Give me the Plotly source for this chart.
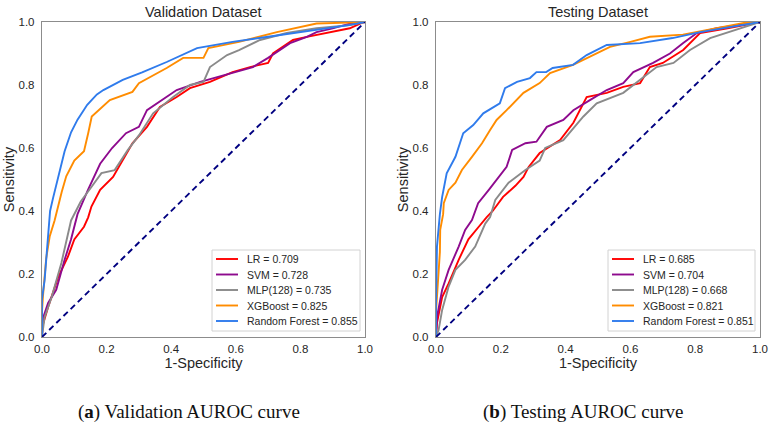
import plotly.graph_objects as go

# ---------------- data ----------------
models = ["LR", "SVM", "MLP(128)", "XGBoost", "Random Forest"]
colors = ["#ff0000", "#8e0a8e", "#8a8a8a", "#ff8c00", "#2f7bec"]

val_auc = [0.709, 0.728, 0.735, 0.825, 0.855]
test_auc = [0.685, 0.704, 0.668, 0.821, 0.851]

# Validation curves
val_lr_fpr = [0, 0, 0.019, 0.05, 0.08, 0.10, 0.13, 0.143, 0.153, 0.18, 0.22, 0.25, 0.28, 0.325, 0.365, 0.417, 0.458, 0.52, 0.59, 0.644, 0.70, 0.715, 0.777, 0.82, 0.953, 0.99, 1]
val_lr_tpr = [0, 0.03, 0.095, 0.19, 0.254, 0.31, 0.35, 0.38, 0.414, 0.467, 0.508, 0.56, 0.615, 0.667, 0.73, 0.762, 0.79, 0.81, 0.841, 0.857, 0.87, 0.90, 0.943, 0.953, 0.98, 0.997, 1]

val_svm_fpr = [0, 0.003, 0.019, 0.044, 0.07, 0.09, 0.11, 0.142, 0.18, 0.217, 0.26, 0.30, 0.325, 0.386, 0.417, 0.49, 0.59, 0.653, 0.70, 0.737, 0.768, 0.82, 0.85, 0.90, 0.953, 1]
val_svm_tpr = [0, 0.06, 0.108, 0.15, 0.245, 0.31, 0.39, 0.466, 0.55, 0.60, 0.647, 0.667, 0.72, 0.762, 0.784, 0.81, 0.838, 0.857, 0.886, 0.911, 0.933, 0.953, 0.968, 0.98, 0.995, 1]

val_mlp_fpr = [0, 0.008, 0.03, 0.06, 0.09, 0.12, 0.153, 0.184, 0.225, 0.266, 0.30, 0.344, 0.406, 0.458, 0.50, 0.52, 0.573, 0.61, 0.675, 0.758, 0.85, 0.953, 1]
val_mlp_tpr = [0, 0.063, 0.127, 0.235, 0.37, 0.43, 0.476, 0.52, 0.53, 0.594, 0.64, 0.71, 0.762, 0.80, 0.81, 0.857, 0.895, 0.911, 0.943, 0.965, 0.98, 0.99, 1]

val_xgb_fpr = [0, 0, 0.003, 0.013, 0.024, 0.039, 0.061, 0.075, 0.10, 0.13, 0.143, 0.154, 0.21, 0.28, 0.30, 0.386, 0.437, 0.50, 0.515, 0.61, 0.727, 0.85, 1]
val_xgb_tpr = [0, 0.08, 0.13, 0.25, 0.32, 0.37, 0.46, 0.51, 0.56, 0.59, 0.647, 0.70, 0.752, 0.778, 0.806, 0.854, 0.886, 0.886, 0.917, 0.937, 0.968, 0.995, 1]

val_rf_fpr = [0, 0, 0.008, 0.019, 0.025, 0.034, 0.05, 0.07, 0.09, 0.11, 0.14, 0.17, 0.19, 0.25, 0.31, 0.386, 0.48, 0.59, 0.70, 0.85, 0.95, 1]
val_rf_tpr = [0, 0.12, 0.18, 0.31, 0.40, 0.44, 0.51, 0.59, 0.65, 0.69, 0.737, 0.77, 0.784, 0.816, 0.84, 0.873, 0.917, 0.937, 0.953, 0.975, 0.99, 1]

# Testing curves
test_lr_fpr = [0, 0.003, 0.019, 0.039, 0.07, 0.10, 0.132, 0.156, 0.175, 0.207, 0.245, 0.27, 0.286, 0.32, 0.383, 0.424, 0.465, 0.527, 0.578, 0.63, 0.66, 0.70, 0.763, 0.815, 0.9, 1]
test_lr_tpr = [0, 0.044, 0.127, 0.17, 0.245, 0.31, 0.35, 0.38, 0.40, 0.445, 0.48, 0.508, 0.54, 0.584, 0.625, 0.68, 0.762, 0.775, 0.794, 0.806, 0.857, 0.87, 0.911, 0.965, 0.98, 1]

test_svm_fpr = [0, 0.003, 0.019, 0.039, 0.07, 0.09, 0.111, 0.13, 0.163, 0.193, 0.218, 0.235, 0.276, 0.31, 0.342, 0.393, 0.424, 0.475, 0.527, 0.578, 0.609, 0.67, 0.722, 0.763, 0.805, 0.866, 0.938, 1]
test_svm_tpr = [0, 0.063, 0.15, 0.213, 0.287, 0.34, 0.371, 0.425, 0.467, 0.508, 0.54, 0.594, 0.615, 0.62, 0.667, 0.689, 0.72, 0.752, 0.784, 0.806, 0.841, 0.87, 0.90, 0.933, 0.965, 0.98, 0.99, 1]

test_mlp_fpr = [0, 0.008, 0.019, 0.039, 0.06, 0.09, 0.121, 0.152, 0.167, 0.183, 0.224, 0.276, 0.32, 0.337, 0.393, 0.455, 0.496, 0.578, 0.64, 0.681, 0.733, 0.784, 0.846, 0.928, 1]
test_mlp_tpr = [0, 0.022, 0.086, 0.16, 0.213, 0.245, 0.287, 0.36, 0.381, 0.435, 0.49, 0.53, 0.56, 0.60, 0.625, 0.70, 0.742, 0.775, 0.825, 0.857, 0.87, 0.911, 0.949, 0.975, 1]

test_xgb_fpr = [0, 0, 0.003, 0.012, 0.013, 0.022, 0.024, 0.039, 0.06, 0.08, 0.111, 0.142, 0.167, 0.187, 0.218, 0.27, 0.32, 0.352, 0.423, 0.475, 0.537, 0.60, 0.66, 0.762, 0.886, 0.95, 1]
test_xgb_tpr = [0, 0.08, 0.127, 0.27, 0.34, 0.39, 0.425, 0.467, 0.49, 0.53, 0.572, 0.615, 0.657, 0.689, 0.72, 0.775, 0.806, 0.838, 0.864, 0.889, 0.921, 0.937, 0.953, 0.96, 0.984, 0.997, 1]

test_rf_fpr = [0, 0, 0.003, 0.008, 0.012, 0.019, 0.033, 0.06, 0.084, 0.115, 0.146, 0.197, 0.213, 0.25, 0.29, 0.31, 0.34, 0.36, 0.423, 0.465, 0.527, 0.63, 0.73, 0.815, 0.886, 0.948, 1]
test_rf_tpr = [0, 0.1, 0.287, 0.35, 0.39, 0.445, 0.52, 0.572, 0.647, 0.673, 0.71, 0.742, 0.79, 0.81, 0.822, 0.841, 0.841, 0.854, 0.864, 0.895, 0.927, 0.933, 0.949, 0.968, 0.98, 0.99, 1]

diag = [0, 1]

val_curves = [(val_lr_fpr, val_lr_tpr), (val_svm_fpr, val_svm_tpr), (val_mlp_fpr, val_mlp_tpr),
              (val_xgb_fpr, val_xgb_tpr), (val_rf_fpr, val_rf_tpr)]
test_curves = [(test_lr_fpr, test_lr_tpr), (test_svm_fpr, test_svm_tpr), (test_mlp_fpr, test_mlp_tpr),
               (test_xgb_fpr, test_xgb_tpr), (test_rf_fpr, test_rf_tpr)]

titles = ["Validation Dataset", "Testing Dataset"]
captions = ["(<b>a</b>) Validation AUROC curve", "(<b>b</b>) Testing AUROC curve"]
tick_vals = [0, 0.2, 0.4, 0.6, 0.8, 1.0]
tick_text = ["0.0", "0.2", "0.4", "0.6", "0.8", "1.0"]

# ---------------- figure ----------------
W, H = 772, 427
fig = go.Figure()
FONT = "Liberation Sans, Arial, sans-serif"
TXT = "#262626"

panels = [
    dict(xa="x", ya="y", curves=val_curves, auc=val_auc),
    dict(xa="x2", ya="y2", curves=test_curves, auc=test_auc),
]

for p in panels:
    for name, col, (fx, ty), a in zip(models, colors, p["curves"], p["auc"]):
        fig.add_trace(go.Scatter(
            x=fx, y=ty, mode="lines", name=f"{name} = {a:.3f}", showlegend=False,
            line=dict(color=col, width=1.9), xaxis=p["xa"], yaxis=p["ya"],
            hoverinfo="skip"))
    fig.add_trace(go.Scatter(
        x=diag, y=diag, mode="lines", showlegend=False,
        line=dict(color="#000080", width=1.9, dash="6px,4px"),
        xaxis=p["xa"], yaxis=p["ya"], hoverinfo="skip"))

y_dom = [1 - 337 / H, 1 - 22 / H]
x_doms = [[42 / W, 365 / W], [436 / W, 760 / W]]

axis_common = dict(range=[0, 1], tickvals=tick_vals, ticktext=tick_text, showgrid=False,
                   zeroline=False, showline=True, linecolor="#8c8c8c", linewidth=1.2,
                   mirror=True, ticks="", automargin=False, fixedrange=True,
                   tickfont=dict(family=FONT, size=11.5, color=TXT))

def xtitle():
    return dict(text="1-Specificity", font=dict(family=FONT, size=14.5, color=TXT), standoff=0)

def ytitle():
    return dict(text="Sensitivity", font=dict(family=FONT, size=14.5, color=TXT), standoff=0)

fig.update_layout(
    xaxis=dict(domain=x_doms[0], anchor="y", title=xtitle(), ticklabelstandoff=1, **axis_common),
    yaxis=dict(domain=y_dom, anchor="x", title=ytitle(), ticklabelstandoff=4, **axis_common),
    xaxis2=dict(domain=x_doms[1], anchor="y2", title=xtitle(), ticklabelstandoff=1, **axis_common),
    yaxis2=dict(domain=y_dom, anchor="x2", title=ytitle(), ticklabelstandoff=4, **axis_common),
)

# ---- legends (drawn inside each panel, bottom right) ----
leg_boxes = [(212, 360), (608, 755)]  # pixel left/right of legend boxes
leg_top, leg_bot = 250, 331
row_y = [259, 274.5, 290, 305.5, 321]
shapes = []
for (bl, br), p in zip(leg_boxes, panels):
    shapes.append(dict(type="rect", xref="paper", yref="paper",
                       x0=bl / W, x1=br / W, y0=1 - leg_bot / H, y1=1 - leg_top / H,
                       line=dict(color="#d2d2d2", width=1), fillcolor="white", layer="above"))
    for name, col, a, ry in zip(models, colors, p["auc"], row_y):
        shapes.append(dict(type="line", xref="paper", yref="paper",
                           x0=(bl + 4) / W, x1=(bl + 26) / W, y0=1 - ry / H, y1=1 - ry / H,
                           line=dict(color=col, width=1.9), layer="above"))
        fig.add_annotation(text=f"{name} = {a:.3f}", x=(bl + 33) / W, y=1 - ry / H,
                           xref="paper", yref="paper", xanchor="left", yanchor="middle",
                           showarrow=False, font=dict(family=FONT, size=10.5, color=TXT))
fig.update_layout(shapes=shapes)

for xd, t in zip(x_doms, titles):
    cx = (xd[0] + xd[1]) / 2
    fig.add_annotation(text=t, x=cx, y=1 - 22 / H, xref="paper", yref="paper",
                       xanchor="center", yanchor="bottom", showarrow=False, yshift=0,
                       font=dict(family=FONT, size=14.5, color=TXT))

cap_x = [189 / W, 583 / W]
for cx, c in zip(cap_x, captions):
    fig.add_annotation(text=c, x=cx, y=1 - 412 / H, xref="paper", yref="paper",
                       xanchor="center", yanchor="middle", showarrow=False,
                       font=dict(family="Liberation Serif, Times New Roman, serif", size=19, color="#111"))

fig.update_layout(width=W, height=H, margin=dict(l=0, r=0, t=0, b=0, autoexpand=False),
                  paper_bgcolor="white", plot_bgcolor="white", showlegend=False,
                  hovermode=False, dragmode=False)

fig.write_html("out.html", config={"displayModeBar": False, "staticPlot": True},
               post_script="document.body.style.margin='0';document.body.style.overflow='hidden';")
